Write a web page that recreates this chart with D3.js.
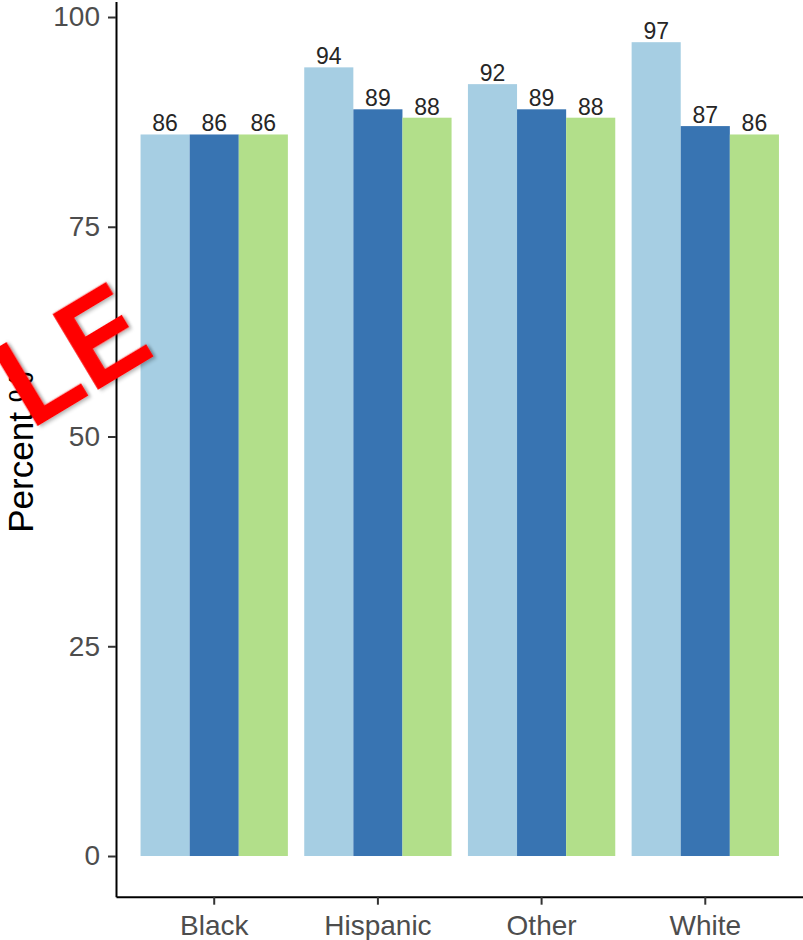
<!DOCTYPE html>
<html>
<head>
<meta charset="utf-8">
<script src="https://cdn.jsdelivr.net/npm/d3@7"></script>
<style>
  html, body { margin: 0; padding: 0; background: #fff; }
  svg { display: block; }
  text { font-family: "Liberation Sans", Arial, Helvetica, sans-serif; }
</style>
</head>
<body>
<svg id="chart" width="803" height="940"></svg>
<script>
const categories = ["Black", "Hispanic", "Other", "White"];
const seriesNames = ["Group 1", "Group 2", "Group 3"];
const seriesColors = ["#A6CEE3", "#3874B2", "#B2DF8A"];
const group1Values = [86, 94, 92, 97];
const group2Values = [86, 89, 89, 87];
const group3Values = [86, 88, 88, 86];
const yTickValues = [0, 25, 50, 75, 100];
const yTitle = "Percent %";
const watermarkText = "LE";

(function () {
const seriesValues = [group1Values, group2Values, group3Values];
const rows = [];
categories.forEach((c, i) => {
  seriesNames.forEach((s, j) => {
    rows.push({ category: c, series: s, value: seriesValues[j][i], color: seriesColors[j] });
  });
});

const svg = d3.select("#chart");
const mLeft = 116, mRight = 803.5, mTop = 1.5, mBottom = 896.7;

const y = d3.scaleLinear().domain([-4.85, 101.85]).range([mBottom, mTop]);
const x = d3.scaleBand().domain(categories).range([mLeft, mRight]).paddingInner(0.1).paddingOuter(0.15);
const xs = d3.scaleBand().domain(seriesNames).range([0, x.bandwidth()]).padding(0);

// bars
svg.append("g").selectAll("rect").data(rows).join("rect")
  .attr("x", d => x(d.category) + xs(d.series))
  .attr("width", xs.bandwidth())
  .attr("y", d => y(d.value))
  .attr("height", d => y(0) - y(d.value))
  .attr("fill", d => d.color);

// value labels
svg.append("g").selectAll("text").data(rows).join("text")
  .attr("x", d => x(d.category) + xs(d.series) + xs.bandwidth() / 2)
  .attr("y", d => y(d.value) - 3)
  .attr("text-anchor", "middle")
  .attr("font-size", 23)
  .attr("fill", "#262626")
  .text(d => d.value);

// y axis
const yAxis = svg.append("g").attr("transform", `translate(${mLeft},0)`)
  .call(d3.axisLeft(y).tickValues(yTickValues).tickSize(8).tickSizeOuter(0).tickPadding(8));
yAxis.select(".domain").attr("stroke", "#000").attr("stroke-width", 2);
yAxis.selectAll(".tick line").attr("stroke", "#333").attr("stroke-width", 2);
yAxis.selectAll(".tick text").attr("font-size", 28).attr("fill", "#4D4D4D")
  .attr("font-family", "Liberation Sans, Arial, sans-serif");

// x axis
const xAxis = svg.append("g").attr("transform", `translate(0,${mBottom})`)
  .call(d3.axisBottom(x).tickSize(8).tickSizeOuter(0).tickPadding(10));
xAxis.select(".domain").attr("stroke", "#000").attr("stroke-width", 2);
xAxis.selectAll(".tick line").attr("stroke", "#333").attr("stroke-width", 2);
xAxis.selectAll(".tick text").attr("font-size", 28).attr("fill", "#4D4D4D")
  .attr("font-family", "Liberation Sans, Arial, sans-serif");

// y title
svg.append("text")
  .attr("transform", `translate(33,452) rotate(-90)`)
  .attr("text-anchor", "middle")
  .attr("font-size", 35)
  .attr("fill", "#000")
  .text(yTitle);

// watermark
const defs = svg.append("defs");
const f = defs.append("filter").attr("id", "wmShadow").attr("x", "-20%").attr("y", "-20%").attr("width", "140%").attr("height", "140%");
f.append("feDropShadow").attr("dx", 2).attr("dy", 2).attr("stdDeviation", 2).attr("flood-color", "#000").attr("flood-opacity", 0.35);
svg.append("text")
  .attr("transform", "translate(31,430) rotate(-31) scale(0.93,1.04)")
  .attr("font-size", 124)
  .attr("font-weight", "bold")
  .attr("fill", "#FF0000")
  .attr("filter", "url(#wmShadow)")
  .text(watermarkText);
})();
</script>
</body>
</html>
